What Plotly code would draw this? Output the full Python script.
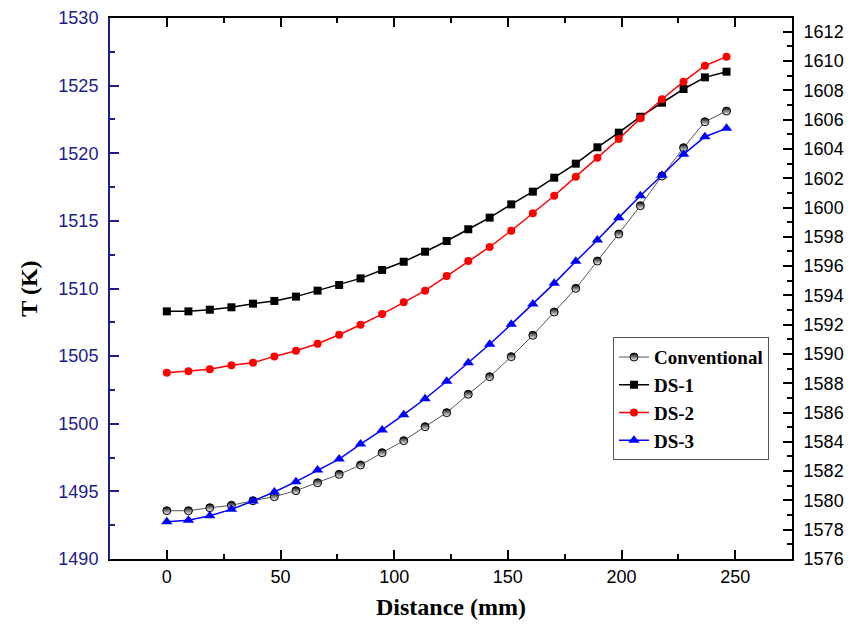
import plotly.graph_objects as go

distance = [0, 9.5, 18.9, 28.4, 37.9, 47.3, 56.8, 66.3, 75.8, 85.2, 94.7, 104.2, 113.6, 123.1,
            132.6, 142.0, 151.5, 161.0, 170.4, 179.9, 189.4, 198.8, 208.3, 217.8, 227.3, 236.7, 246.2]

conventional = [1493.57, 1493.57, 1493.79, 1493.97, 1494.31, 1494.61, 1495.05, 1495.64, 1496.26,
                1496.95, 1497.86, 1498.75, 1499.78, 1500.82, 1502.18, 1503.48, 1504.96, 1506.54,
                1508.26, 1510.01, 1512.03, 1514.03, 1516.12, 1518.32, 1520.41, 1522.33, 1523.12]
ds1 = [1508.31, 1508.31, 1508.43, 1508.61, 1508.88, 1509.08, 1509.40, 1509.84, 1510.26, 1510.75,
       1511.37, 1511.98, 1512.72, 1513.51, 1514.38, 1515.24, 1516.22, 1517.16, 1518.19, 1519.23,
       1520.44, 1521.52, 1522.70, 1523.74, 1524.75, 1525.61, 1526.03]
ds2 = [1503.78, 1503.88, 1504.03, 1504.32, 1504.51, 1504.98, 1505.40, 1505.92, 1506.58, 1507.32,
       1508.11, 1508.98, 1509.84, 1510.92, 1512.03, 1513.07, 1514.27, 1515.56, 1516.86, 1518.27,
       1519.67, 1521.05, 1522.58, 1523.99, 1525.29, 1526.47, 1527.14]
ds3 = [1492.76, 1492.86, 1493.20, 1493.67, 1494.29, 1494.95, 1495.72, 1496.58, 1497.39, 1498.50,
       1499.54, 1500.67, 1501.85, 1503.14, 1504.51, 1505.88, 1507.35, 1508.85, 1510.38, 1512.01,
       1513.59, 1515.24, 1516.86, 1518.37, 1519.92, 1521.22, 1521.84]

navy = "#1c1c8a"
serif = "Liberation Serif, Times New Roman, serif"
sans = "Liberation Sans, Arial, sans-serif"

fig = go.Figure()

fig.add_trace(go.Scatter(x=distance, y=conventional, name="<b>Conventional</b>", mode="lines+markers",
                         line=dict(color="#555555", width=1),
                         marker=dict(symbol="circle", size=8, color="black",
                                     gradient=dict(type="vertical", color="white"),
                                     line=dict(color="black", width=1))))
fig.add_trace(go.Scatter(x=distance, y=ds1, name="<b>DS-1</b>", mode="lines+markers",
                         line=dict(color="black", width=1.5),
                         marker=dict(symbol="square", size=8, color="black")))
fig.add_trace(go.Scatter(x=distance, y=ds2, name="<b>DS-2</b>", mode="lines+markers",
                         line=dict(color="red", width=1.5),
                         marker=dict(symbol="circle", size=8, color="red")))
fig.add_trace(go.Scatter(x=distance, y=ds3, name="<b>DS-3</b>", mode="lines+markers",
                         line=dict(color="blue", width=1.5),
                         marker=dict(symbol="triangle-up", size=10, color="blue")))
# keeps the right axis drawn
fig.add_trace(go.Scatter(x=[None], y=[None], yaxis="y2", showlegend=False, hoverinfo="skip"))

# page body adds 8px, so the figure is a bit smaller than the window
fig.update_layout(
    width=853, height=618,
    margin=dict(l=102, r=69, t=10, b=67),
    plot_bgcolor="white", paper_bgcolor="white",
    showlegend=True,
    legend=dict(x=0.7375, y=0.41, xanchor="left", yanchor="top",
                bordercolor="#555555", borderwidth=1, bgcolor="white",
                font=dict(family=serif, size=19, color="black"),
                tracegroupgap=0, itemwidth=30),
    xaxis=dict(range=[-25, 275], tickvals=[0, 50, 100, 150, 200, 250], automargin=False,
               ticks="inside", ticklen=9, tickwidth=1.5, tickcolor="black",
               minor=dict(ticks="inside", ticklen=5, dtick=25, tick0=0, tickcolor="black"),
               showline=True, linecolor="black", linewidth=2, mirror="ticks",
               showgrid=False, zeroline=False,
               tickfont=dict(family=sans, size=18, color="black"),
               title=dict(text="<b>Distance (mm)</b>", font=dict(family=serif, size=24, color="black"),
                          standoff=13)),
    yaxis=dict(range=[1490, 1530], dtick=5, tick0=1490, automargin=False,
               ticks="inside", ticklen=9, tickwidth=1.5, tickcolor=navy,
               minor=dict(ticks="inside", ticklen=5, dtick=2.5, tick0=1490, tickcolor=navy),
               showline=True, linecolor=navy, linewidth=2,
               showgrid=False, zeroline=False, ticklabelstandoff=6,
               tickfont=dict(family=sans, size=18, color=navy),
               title=dict(text="<b>T (K)</b>", font=dict(family=serif, size=24, color="black"),
                          standoff=14)),
    yaxis2=dict(overlaying="y", side="right", range=[1576, 1612.94], dtick=2, tick0=1576,
                automargin=False,
                ticks="inside", ticklen=9, tickwidth=1.5, tickcolor="black",
                minor=dict(ticks="inside", ticklen=5, dtick=1, tick0=1576, tickcolor="black"),
                showline=True, linecolor="black", linewidth=2,
                showgrid=False, zeroline=False, ticklabelstandoff=6,
                tickfont=dict(family=sans, size=18, color="black")),
)

fig.write_html("out.html")
